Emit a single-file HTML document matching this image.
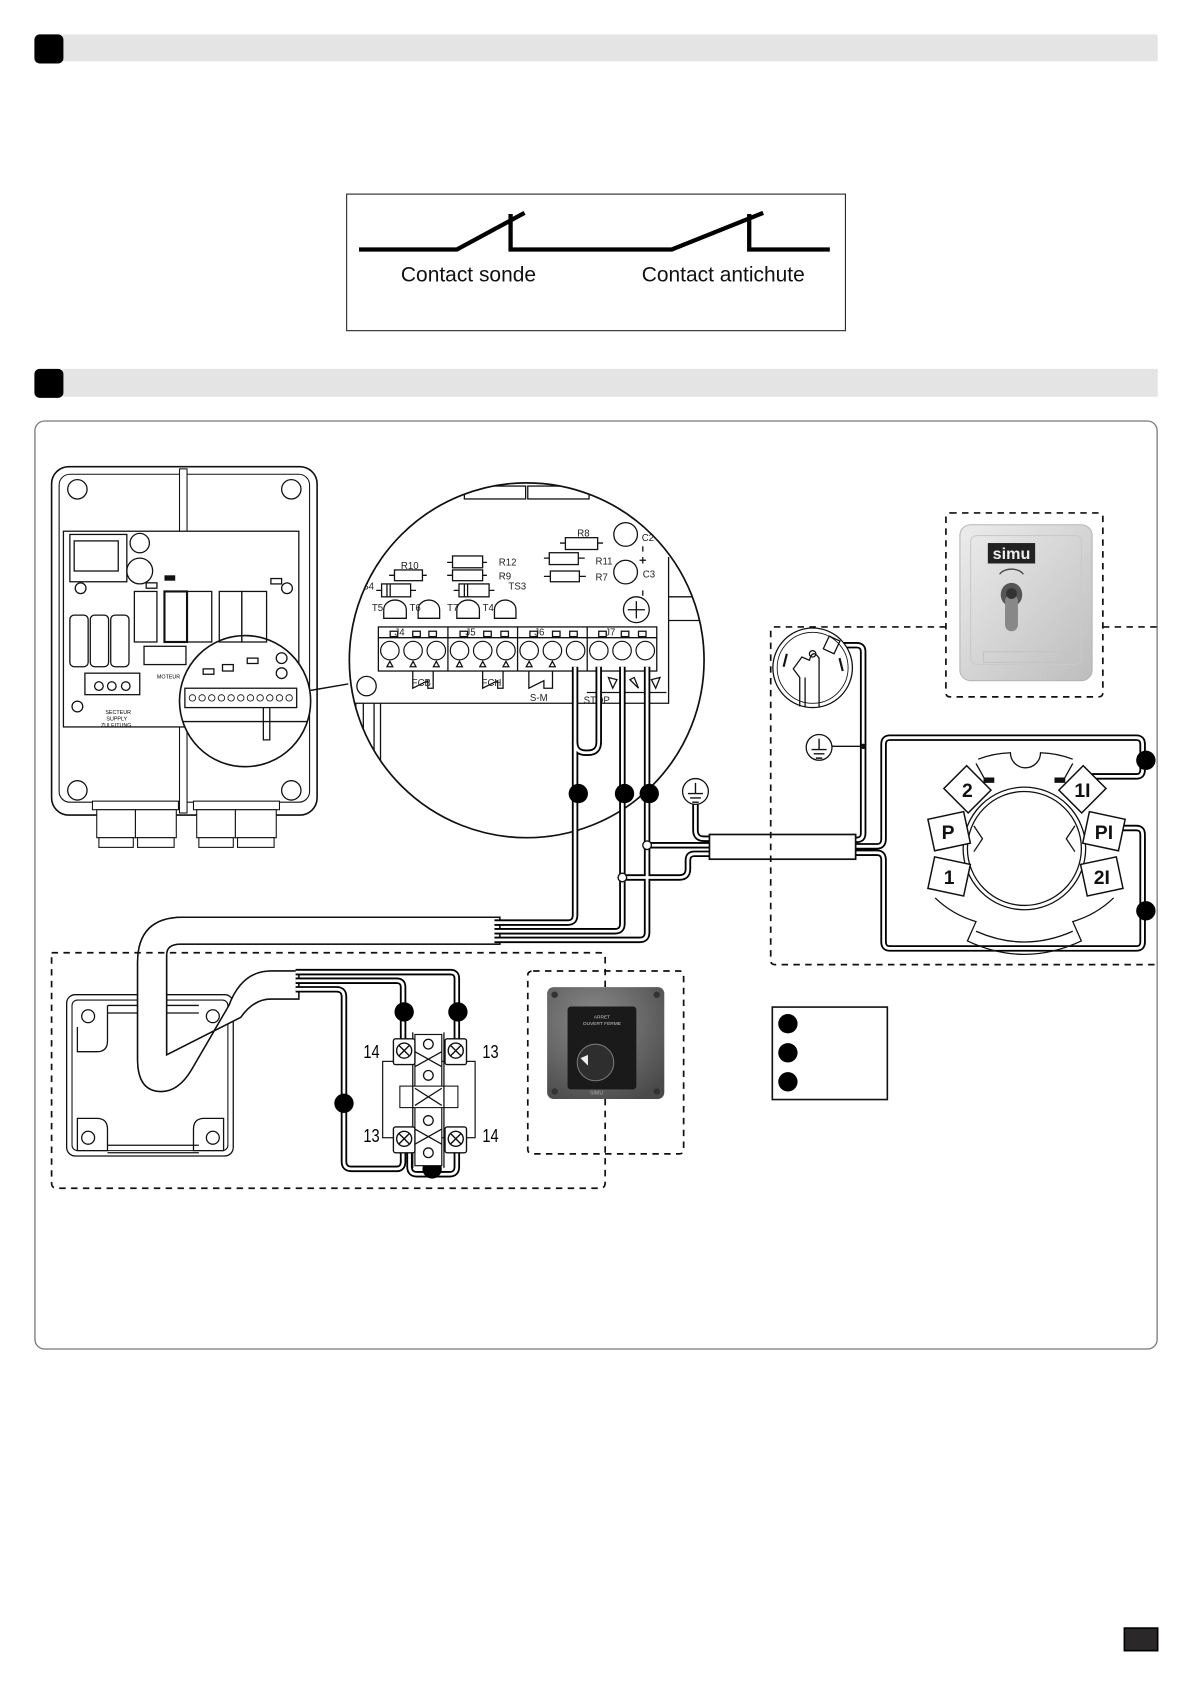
<!DOCTYPE html>
<html><head><meta charset="utf-8"><style>
html,body{margin:0;padding:0;background:#fff}
svg{display:block}
.wo{fill:none;stroke:#000;stroke-width:6;stroke-linejoin:round;stroke-linecap:butt}
.wi{fill:none;stroke:#fff;stroke-width:2.6;stroke-linejoin:round;stroke-linecap:butt}
.t{font-family:"Liberation Sans",sans-serif}
.pc{font-family:"Liberation Sans",sans-serif;font-size:9px;fill:#222}
.ln{fill:none;stroke:#111;stroke-width:1.2}
</style></head><body>
<svg width="1191" height="1684" viewBox="0 0 1108 1566" preserveAspectRatio="none" xmlns="http://www.w3.org/2000/svg">
<defs>
<path id="w1" d="M535,620 V851 Q535,858 528,858 H460"/>
<path id="w1b" d="M557,620 V690 Q557,700 547,700 H545 Q535,700 535,690"/>
<path id="w2" d="M579,620 V859 Q579,866 572,866 H460"/>
<path id="w3" d="M602,620 V867 Q602,874 595,874 H460"/>
<path id="w4" d="M602,786 H662"/>
<path id="w5" d="M579,816 H632 Q640,816 640,808 V800 Q640,794 646,794 H662"/>
<path id="w6" d="M647,748 V772 Q647,780 655,780 H662"/>
<path id="w7" d="M792,781 H797 Q803,781 803,775 V606 Q803,600 797,600 H778"/>
<path id="w8" d="M792,787 H816 Q822,787 822,780 V692 Q822,686 828,686 H1057 Q1063,686 1063,692 V716 Q1063,722 1057,722 H1015"/>
<path id="w9" d="M792,793 H816 Q822,793 822,800 V876 Q822,882 828,882 H1057 Q1063,882 1063,876 V776 Q1063,770 1057,770 H1040"/>
<path id="w10" d="M275,904 H419 Q425,904 425,910 V970"/>
<path id="w11" d="M275,912 H369 Q375,912 375,918 V970"/>
<path id="w12" d="M275,920 H313 Q320,920 320,927 V1080 Q320,1087 327,1087 H369 Q375,1087 375,1080 V1070"/>
<path id="w13" d="M381,1070 V1085 Q381,1092 388,1092 H418 Q425,1092 425,1085 V1070"/>
<clipPath id="mag"><circle cx="490" cy="614" r="165"/></clipPath>
<clipPath id="mag2"><circle cx="228" cy="652" r="61"/></clipPath>
<linearGradient id="gk" x1="0" y1="0" x2="1" y2="1"><stop offset="0" stop-color="#ececec"/><stop offset="1" stop-color="#bdbdbd"/></linearGradient>
<radialGradient id="gb" cx="0.4" cy="0.3" r="0.8"><stop offset="0" stop-color="#8a8a8a"/><stop offset="1" stop-color="#4a4a4a"/></radialGradient>
</defs>

<rect x="58" y="32" width="1019" height="25" fill="#e4e4e4"/>
<rect x="32" y="32" width="27" height="27" rx="5" fill="#000"/>
<rect x="58" y="343" width="1019" height="26" fill="#e4e4e4"/>
<rect x="32" y="343" width="27" height="27" rx="5" fill="#000"/>

<rect x="322.5" y="180.5" width="464" height="127" fill="#fff" stroke="#222" stroke-width="1"/>
<path d="M334,232 H425 L488,198 M475,199 V232 H553 H625 L710,198 M697,199 V232 H772" fill="none" stroke="#000" stroke-width="4"/>
<text x="373" y="262" class="t" font-size="19.5" fill="#111">Contact sonde</text>
<text x="597" y="262" class="t" font-size="19.5" fill="#111">Contact antichute</text>

<rect x="32.5" y="391.5" width="1044" height="863" rx="9" fill="none" stroke="#777" stroke-width="1.2"/>

<rect x="48" y="434" width="247" height="324" rx="16" fill="#fff" stroke="#111" stroke-width="1.5"/>
<rect x="55" y="441" width="233" height="305" rx="10" fill="none" stroke="#111" stroke-width="1"/>
<rect x="167" y="436" width="7" height="320" fill="#fff" stroke="#111" stroke-width="1"/>
<circle cx="72" cy="455" r="9" class="ln"/><circle cx="271" cy="455" r="9" class="ln"/>
<circle cx="72" cy="735" r="9" class="ln"/><circle cx="271" cy="735" r="9" class="ln"/>
<rect x="59" y="494" width="219" height="182" fill="#fff" stroke="#111" stroke-width="1.2"/>
<rect x="65" y="497" width="53" height="44" class="ln"/><rect x="69" y="503" width="41" height="28" class="ln"/>
<circle cx="130" cy="505" r="9" class="ln"/><circle cx="130" cy="531" r="12" class="ln"/>
<circle cx="75" cy="547" r="5" class="ln"/><circle cx="267" cy="547" r="5" class="ln"/><circle cx="72" cy="657" r="5" class="ln"/>
<rect x="125" y="550" width="21" height="47" class="ln"/><rect x="153" y="550" width="21" height="47" fill="#fff" stroke="#111" stroke-width="2"/>
<rect x="174" y="550" width="23" height="47" class="ln"/><rect x="204" y="550" width="21" height="47" class="ln"/><rect x="225" y="550" width="23" height="47" class="ln"/>
<rect x="65" y="572" width="17" height="48" rx="4" class="ln"/><rect x="84" y="572" width="17" height="48" rx="4" class="ln"/><rect x="103" y="572" width="17" height="48" rx="4" class="ln"/>
<rect x="79" y="626" width="51" height="20" class="ln"/>
<circle cx="92" cy="638" r="4" class="ln"/><circle cx="104" cy="638" r="4" class="ln"/><circle cx="117" cy="638" r="4" class="ln"/>
<rect x="134" y="601" width="39" height="17" class="ln"/>
<rect x="153" y="535" width="10" height="5" fill="#111"/><rect x="136" y="542" width="10" height="5" class="ln"/><rect x="252" y="538" width="10" height="5" class="ln"/>
<text x="98" y="664" font-size="5" class="t">SECTEUR</text><text x="99" y="670" font-size="5" class="t">SUPPLY</text><text x="94" y="676" font-size="5" class="t">ZULEITUNG</text>
<text x="146" y="631" font-size="5" class="t">MOTEUR</text>
<g clip-path="url(#mag2)">
<rect x="160" y="600" width="140" height="120" fill="#fff"/>
<rect x="172" y="640" width="104" height="18" class="ln"/>
<g fill="none" stroke="#111" stroke-width="0.8">
<circle cx="179" cy="649" r="3"/><circle cx="188" cy="649" r="3"/><circle cx="197" cy="649" r="3"/><circle cx="206" cy="649" r="3"/><circle cx="215" cy="649" r="3"/><circle cx="224" cy="649" r="3"/><circle cx="233" cy="649" r="3"/><circle cx="242" cy="649" r="3"/><circle cx="251" cy="649" r="3"/><circle cx="260" cy="649" r="3"/><circle cx="269" cy="649" r="3"/>
</g>
<rect x="189" y="622" width="10" height="5" class="ln"/><rect x="207" y="618" width="10" height="6" class="ln"/><rect x="230" y="612" width="10" height="5" class="ln"/>
<circle cx="262" cy="612" r="5" class="ln"/><circle cx="262" cy="626" r="5" class="ln"/>
<path d="M245,658 V688 H251 V658" class="ln"/>
<path d="M160,671 H300" class="ln"/>
</g>
<circle cx="228" cy="652" r="61" fill="none" stroke="#111" stroke-width="1.5"/>
<line x1="289" y1="642" x2="324" y2="636" stroke="#111" stroke-width="1.3"/>
<g fill="#fff" stroke="#111" stroke-width="1">
<rect x="86" y="745" width="80" height="8"/><rect x="180" y="745" width="80" height="8"/>
<rect x="90" y="753" width="36" height="26"/><rect x="126" y="753" width="38" height="26"/><rect x="183" y="753" width="36" height="26"/><rect x="219" y="753" width="38" height="26"/>
<rect x="92" y="779" width="32" height="9"/><rect x="128" y="779" width="34" height="9"/><rect x="185" y="779" width="32" height="9"/><rect x="221" y="779" width="34" height="9"/>
</g>

<circle cx="490" cy="614" r="165" fill="#fff"/>
<g clip-path="url(#mag)">
<rect x="432" y="452" width="57" height="12" class="ln"/><rect x="491" y="452" width="57" height="12" class="ln"/>
<path d="M300,654 H622 V518 M622,555 H680 M622,577 H680" class="ln"/>
<path d="M331,654 V800 M338,654 V800 M348,654 V800 M354,654 V800" class="ln"/>
<rect x="526" y="500" width="30" height="11" class="ln"/><path d="M521,505 H526 M556,505 H561" class="ln"/>
<rect x="421" y="517" width="28" height="11" class="ln" stroke-width="1.8"/><rect x="421" y="530" width="28" height="10" class="ln"/>
<rect x="511" y="514" width="27" height="11" class="ln"/><rect x="512" y="531" width="27" height="10" class="ln"/>
<path d="M506,519 H511 M538,519 H544 M506,536 H512 M539,536 H545 M416,523 H421 M449,523 H453 M416,535 H421 M449,535 H453" class="ln"/>
<rect x="367" y="530" width="26" height="10" class="ln"/><path d="M362,535 H367 M393,535 H397" class="ln"/>
<rect x="355" y="543" width="27" height="12" class="ln"/><path d="M360,543 V555 M363,543 V555 M350,549 H355 M382,549 H387" class="ln"/>
<rect x="427" y="543" width="28" height="12" class="ln"/><path d="M432,543 V555 M435,543 V555 M422,549 H427 M455,549 H460" class="ln"/>
<g class="ln">
<path d="M357,575 V567 A10.5,9 0 0 1 378,567 V575 Z"/><path d="M389,575 V567 A10,9 0 0 1 409,567 V575 Z"/>
<path d="M425,575 V567 A10.5,9 0 0 1 446,567 V575 Z"/><path d="M460,575 V567 A10,9 0 0 1 480,567 V575 Z"/>
</g>
<circle cx="582" cy="497" r="11" class="ln"/><circle cx="582" cy="532" r="11" class="ln"/>
<circle cx="592" cy="567" r="12" class="ln"/><path d="M584,567 H600 M592,559 V575" class="ln"/>
<path d="M598,508 V513 M598,549 V554 M595,521 H601 M598,518 V524" class="ln"/>
<text x="537" y="499" class="pc">R8</text><text x="464" y="526" class="pc" font-size="10">R12</text><text x="464" y="539" class="pc">R9</text>
<text x="473" y="548" class="pc">TS3</text><text x="554" y="525" class="pc" font-size="10">R11</text><text x="554" y="540" class="pc">R7</text>
<text x="373" y="529" class="pc" font-size="10">R10</text><text x="337" y="548" class="pc">S4</text>
<text x="346" y="568" class="pc">T5</text><text x="381" y="568" class="pc">T6</text><text x="416" y="568" class="pc">T7</text><text x="449" y="568" class="pc">T4</text>
<text x="597" y="503" class="pc">C2</text><text x="598" y="537" class="pc">C3</text>
<rect x="352" y="583" width="259" height="41" fill="#fff" stroke="#111" stroke-width="1.2"/>
<path d="M352,593 H611 M416.7,583 V624 M481.5,583 V624 M546.3,583 V624" class="ln"/>
<g class="ln">
<rect x="363" y="587" width="7" height="5"/><rect x="384" y="587" width="7" height="5"/><rect x="399" y="587" width="7" height="5"/>
<rect x="428" y="587" width="7" height="5"/><rect x="450" y="587" width="7" height="5"/><rect x="466" y="587" width="7" height="5"/>
<rect x="493" y="587" width="7" height="5"/><rect x="514" y="587" width="7" height="5"/><rect x="530" y="587" width="7" height="5"/>
<rect x="557" y="587" width="7" height="5"/><rect x="578" y="587" width="7" height="5"/><rect x="594" y="587" width="7" height="5"/>
</g>
<text x="367" y="591" class="pc" font-size="8">J4</text><text x="433" y="591" class="pc" font-size="8">J5</text><text x="497" y="591" class="pc" font-size="8">J6</text><text x="563" y="591" class="pc" font-size="8">J7</text>
<g fill="#fff" stroke="#111" stroke-width="1.1">
<circle cx="362.7" cy="605" r="8.6"/><circle cx="384.3" cy="605" r="8.6"/><circle cx="405.9" cy="605" r="8.6"/><circle cx="427.5" cy="605" r="8.6"/><circle cx="449.1" cy="605" r="8.6"/><circle cx="470.7" cy="605" r="8.6"/><circle cx="492.3" cy="605" r="8.6"/><circle cx="513.9" cy="605" r="8.6"/><circle cx="535.5" cy="605" r="8.6"/><circle cx="557.1" cy="605" r="8.6"/><circle cx="578.7" cy="605" r="8.6"/><circle cx="600.3" cy="605" r="8.6"/>
</g>
<g class="ln">
<path d="M360,620 L362.7,615 L365.4,620 Z M381.6,620 L384.3,615 L387,620 Z M403.2,620 L405.9,615 L408.6,620 Z M424.8,620 L427.5,615 L430.2,620 Z M446.4,620 L449.1,615 L451.8,620 Z M468,620 L470.7,615 L473.4,620 Z M489.6,620 L492.3,615 L495,620 Z M511.2,620 L513.9,615 L516.6,620 Z"/>
<path d="M384,624 V640 L398,633 V640 H403 V624 M449,624 V640 L463,633 V640 H468 V624 M492,624 V640 L506,633 V640 H514 V624"/>
<path d="M566,630 L574,632 L570,640 Z M590,630 L594,640 L586,632 Z M614,630 L610,640 L606,632 Z"/>
<path d="M546,644 H620"/>
</g>
<circle cx="341" cy="638" r="9" class="ln"/>
<text x="383" y="638" class="pc" font-size="10">FCB</text><text x="448" y="638" class="pc" font-size="10">FCH</text>
<text x="493" y="652" class="pc">S-M</text><text x="543" y="654" class="pc" font-size="10">STOP</text>
</g>
<circle cx="490" cy="614" r="165" fill="none" stroke="#111" stroke-width="1.6"/>

<path d="M465,853 H170 Q128,853 128,895 V985 Q128,1015 150,1015 Q166,1015 178,995 L213,935 Q225,903 252,903 H278 V929 H252 Q236,929 224,946 L155,981 V888 Q155,878 168,878 H465 Z" fill="#fff" stroke="#111" stroke-width="1.4"/>

<rect x="62" y="925" width="155" height="150" rx="8" fill="none" stroke="#111" stroke-width="1.2"/>
<rect x="67" y="930" width="145" height="140" rx="5" fill="none" stroke="#111" stroke-width="1"/>
<circle cx="82" cy="945" r="6" class="ln"/><circle cx="82" cy="1058" r="6" class="ln"/><circle cx="198" cy="1058" r="6" class="ln"/><circle cx="198" cy="945" r="6" class="ln"/>
<path d="M72,1040 V1070 H100 V1050 Q100,1040 90,1040 Z M208,1040 V1070 H180 V1050 Q180,1040 190,1040 Z M72,955 V978 H90 Q100,978 100,968 V935" class="ln"/>
<path d="M100,935 H185 M100,942 H185 M100,1065 H185 M100,1072 H185" class="ln"/>
<path d="M465,853 H170 Q128,853 128,895 V985 Q128,1015 150,1015 Q166,1015 178,995 L213,935 Q225,903 252,903 H278 V929 H252 Q236,929 224,946 L155,981 V888 Q155,878 168,878 H465 Z" fill="#fff" stroke="#111" stroke-width="1.4"/>

<g>
<use href="#w1" class="wo"/><use href="#w1b" class="wo"/><use href="#w2" class="wo"/><use href="#w3" class="wo"/>
<use href="#w4" class="wo"/><use href="#w5" class="wo"/><use href="#w6" class="wo"/><use href="#w7" class="wo"/><use href="#w8" class="wo"/><use href="#w9" class="wo"/>
<use href="#w10" class="wo"/><use href="#w11" class="wo"/><use href="#w12" class="wo"/><use href="#w13" class="wo"/>
<use href="#w1" class="wi"/><use href="#w1b" class="wi"/><use href="#w2" class="wi"/><use href="#w3" class="wi"/>
<use href="#w4" class="wi"/><use href="#w5" class="wi"/><use href="#w6" class="wi"/><use href="#w7" class="wi"/><use href="#w8" class="wi"/><use href="#w9" class="wi"/>
<use href="#w10" class="wi"/><use href="#w11" class="wi"/><use href="#w12" class="wi"/><use href="#w13" class="wi"/>
</g>
<circle cx="602" cy="786" r="4" fill="#fff" stroke="#111" stroke-width="1.3"/>
<circle cx="579" cy="816" r="4" fill="#fff" stroke="#111" stroke-width="1.3"/>

<g fill="#fff" stroke="#111" stroke-width="1.2">
<circle cx="647" cy="736" r="12"/><circle cx="762" cy="695" r="12"/>
</g>
<path d="M647,728 V738 M640,738 H654 M642,742 H652 M644,746 H650 M762,687 V697 M755,697 H769 M757,701 H767 M759,705 H765" stroke="#111" stroke-width="1.3"/>
<line x1="774" y1="694" x2="803" y2="694" stroke="#111" stroke-width="1.2"/>
<circle cx="803" cy="694" r="2.5" fill="#111"/>

<rect x="660" y="776" width="136" height="23" fill="#fff" stroke="#111" stroke-width="1.6"/>

<g fill="#000">
<circle cx="538" cy="738" r="9"/><circle cx="581" cy="738" r="9"/><circle cx="604" cy="738" r="9"/>
<circle cx="1066" cy="707" r="9"/><circle cx="1066" cy="847" r="9"/>
<circle cx="376" cy="941" r="9"/><circle cx="426" cy="941" r="9"/><circle cx="320" cy="1026" r="9"/><circle cx="402" cy="1087" r="9"/>
</g>

<rect x="356" y="987" width="86" height="71" fill="#fff" stroke="#111" stroke-width="1.1"/>
<rect x="386" y="962" width="25" height="122" fill="#fff" stroke="#111" stroke-width="1.1"/>
<rect x="372" y="1010" width="54" height="20" fill="#fff" stroke="#111" stroke-width="1"/>
<path d="M384,960 V1086 M413,960 V1086 M386,978 L411,992 M411,978 L386,992 M386,1012 L411,1028 M411,1012 L386,1028 M386,1050 L411,1064 M411,1050 L386,1064" class="ln"/>
<circle cx="398.5" cy="971" r="4.5" class="ln"/><circle cx="398.5" cy="1000" r="4.5" class="ln"/><circle cx="398.5" cy="1042" r="4.5" class="ln"/><circle cx="398.5" cy="1072" r="4.5" class="ln"/>
<g fill="#fff" stroke="#111" stroke-width="1.3">
<rect x="366" y="966" width="20" height="24" rx="2"/><rect x="414" y="966" width="20" height="24" rx="2"/>
<rect x="366" y="1048" width="20" height="24" rx="2"/><rect x="414" y="1048" width="20" height="24" rx="2"/>
<circle cx="376" cy="977" r="7"/><circle cx="424" cy="977" r="7"/><circle cx="376" cy="1059" r="7"/><circle cx="424" cy="1059" r="7"/>
</g>
<path d="M371,972 L381,982 M381,972 L371,982 M419,972 L429,982 M429,972 L419,982 M371,1054 L381,1064 M381,1054 L371,1064 M419,1054 L429,1064 M429,1054 L419,1064" stroke="#111" stroke-width="1.3"/>
<text x="338" y="984" class="t" font-size="17" transform="scale(0.8,1) translate(84.5,0)">14</text>
<text x="449" y="984" class="t" font-size="17" transform="scale(0.8,1) translate(112,0)">13</text>
<text x="338" y="1062" class="t" font-size="17" transform="scale(0.8,1) translate(84.5,0)">13</text>
<text x="449" y="1062" class="t" font-size="17" transform="scale(0.8,1) translate(112,0)">14</text>

<g fill="none" stroke="#111" stroke-width="1.6" stroke-dasharray="6,5">
<path d="M48,886 H558 Q563,886 563,891 V1100 Q563,1105 558,1105 H53 Q48,1105 48,1100 Z"/>
<path d="M496,903 H632 Q636,903 636,907 V1069 Q636,1073 632,1073 H496 Q491,1073 491,1069 V907 Q491,903 496,903 Z"/>
<path d="M884,477 H1022 Q1026,477 1026,481 V644 Q1026,648 1022,648 H884 Q880,648 880,644 V481 Q880,477 884,477 Z"/>
<path d="M880,583 H721 Q717,583 717,587 V893 Q717,897 721,897 H1077"/>
<path d="M1026,583 H1077"/>
</g>

<rect x="893" y="488" width="123" height="145" rx="10" fill="url(#gk)" stroke="#b5b5b5"/>
<rect x="903" y="498" width="103" height="120" rx="6" fill="none" stroke="#c9c9c9"/>
<rect x="919" y="505" width="44" height="19" fill="#222"/>
<text x="941" y="520" text-anchor="middle" class="t" font-size="15" font-weight="bold" fill="#eee">simu</text>
<path d="M930,534 A12,8 0 0 1 952,534" fill="none" stroke="#444" stroke-width="1.2"/>
<ellipse cx="941" cy="553" rx="10" ry="11" fill="#555"/>
<rect x="935" y="553" width="12" height="34" rx="6" fill="#888"/>
<circle cx="941" cy="552" r="5" fill="#333"/>
<rect x="915" y="606" width="78" height="10" fill="none" stroke="#c3c3c3"/>

<circle cx="756" cy="621" r="37" fill="#fff" stroke="#111" stroke-width="1.2"/>
<circle cx="756" cy="621" r="33" fill="none" stroke="#111" stroke-width="0.8"/>
<path d="M744,657 V630 L738,622 L746,611 L753,614 Q756,603 762,612 V657 M749,630 V657" class="ln"/>
<rect x="768" y="593" width="11" height="13" transform="rotate(25 773 600)" class="ln"/>
<circle cx="756" cy="608" r="3" class="ln"/>
<path d="M732,608 L729,620 M781,612 L784,624" stroke="#111" stroke-width="2"/>

<g fill="none" stroke="#111" stroke-width="1.2">
<path d="M910,706 A90,90 0 0 1 940,700 A14,14 0 0 0 968,700 A90,90 0 0 1 998,706"/>
<circle cx="953" cy="789" r="57"/><circle cx="953" cy="789" r="53"/>
<path d="M870,835 A92,92 0 0 0 908,857 L900,875 Q953,900 1006,875 L998,857 A92,92 0 0 0 1036,835"/>
<path d="M908,866 Q953,886 998,866"/>
<path d="M908,710 L918,728 M998,710 L988,728"/>
</g>
<rect x="915" y="723" width="10" height="5" fill="#111"/><rect x="981" y="723" width="10" height="5" fill="#111"/>
<path d="M906,768 L914,780 L906,792 M1000,768 L992,780 L1000,792" fill="none" stroke="#111" stroke-width="1.2"/>
<g fill="#fff" stroke="#111" stroke-width="1.4">
<rect x="884" y="719" width="32" height="30" transform="rotate(45 900 734)"/>
<rect x="991" y="719" width="32" height="30" transform="rotate(-45 1007 734)"/>
<rect x="866" y="758" width="34" height="30" transform="rotate(-12 883 773)"/>
<rect x="1010" y="758" width="34" height="30" transform="rotate(12 1027 773)"/>
<rect x="866" y="800" width="34" height="30" transform="rotate(12 883 815)"/>
<rect x="1008" y="800" width="34" height="30" transform="rotate(-12 1025 815)"/>
</g>
<g class="t" font-size="18" font-weight="bold" fill="#111" text-anchor="middle">
<text x="900" y="741">2</text><text x="1007" y="741">1I</text>
<text x="882" y="780">P</text><text x="1027" y="780">PI</text>
<text x="883" y="822">1</text><text x="1025" y="822">2I</text>
</g>

<rect x="509" y="918" width="109" height="104" rx="6" fill="url(#gb)"/>
<circle cx="516" cy="925" r="3" fill="#333"/><circle cx="611" cy="925" r="3" fill="#333"/><circle cx="516" cy="1015" r="3" fill="#333"/><circle cx="611" cy="1015" r="3" fill="#333"/>
<rect x="528" y="936" width="64" height="77" rx="3" fill="#1a1a1a"/>
<text x="560" y="947" text-anchor="middle" class="t" font-size="4.5" fill="#ccc">ARRET</text>
<text x="560" y="953" text-anchor="middle" class="t" font-size="4.5" fill="#ccc">OUVERT FERME</text>
<circle cx="554" cy="988" r="17" fill="#2e2e2e" stroke="#777"/>
<path d="M540,984 L547,981 L547,991 Z" fill="#eee"/>
<text x="555" y="1018" text-anchor="middle" class="t" font-size="5" fill="#aaa">SIMU</text>

<rect x="718.5" y="936.5" width="107" height="86" fill="none" stroke="#111" stroke-width="1.5"/>
<g fill="#000"><circle cx="733" cy="952" r="9"/><circle cx="733" cy="979" r="9"/><circle cx="733" cy="1006" r="9"/></g>

<rect x="1046" y="1514" width="31" height="21" fill="#2a2828" stroke="#000" stroke-width="1.5"/>
</svg>
</body></html>
